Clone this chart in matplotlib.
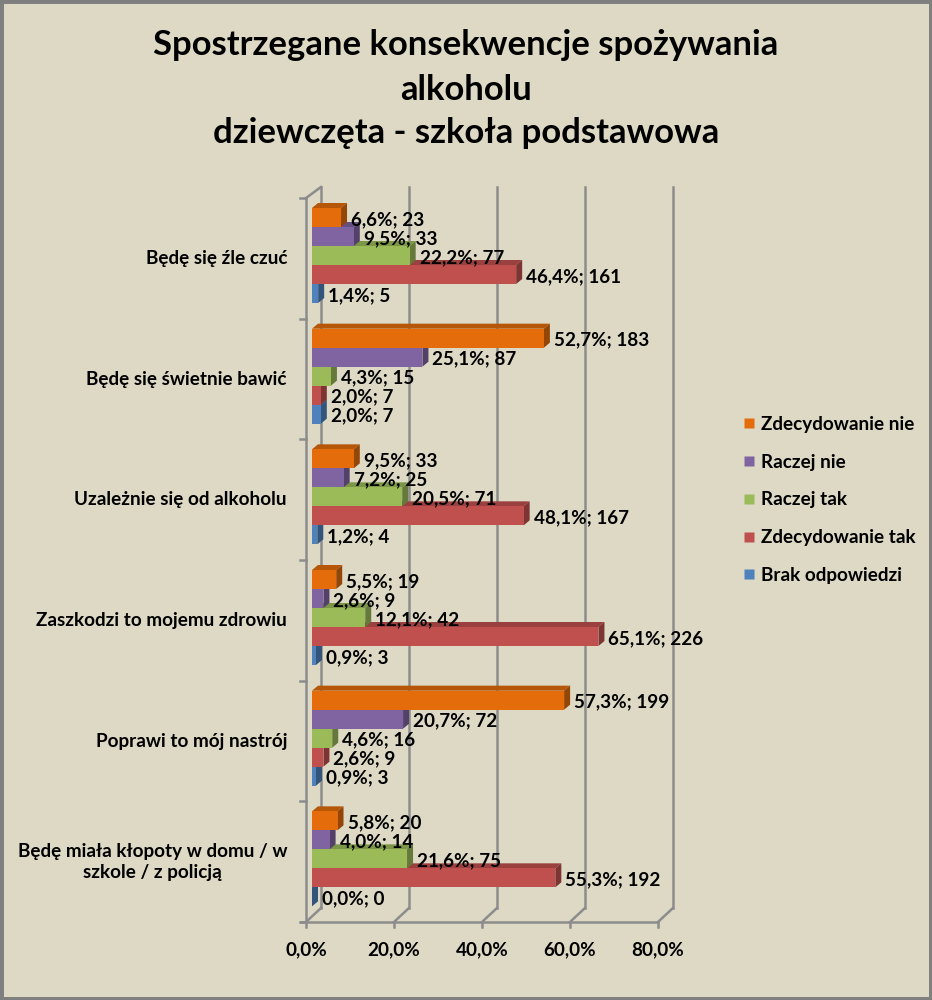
import matplotlib
matplotlib.use("Agg")
import matplotlib.pyplot as plt
from matplotlib.patches import Polygon, Rectangle
from matplotlib.lines import Line2D
import numpy as np

plt.rcParams['font.family'] = ['Lato', 'DejaVu Sans']

# dane
categories = [
    "Będę się źle czuć",
    "Będę się świetnie bawić",
    "Uzależnie się od alkoholu",
    "Zaszkodzi to mojemu zdrowiu",
    "Poprawi to mój nastrój",
    "Będę miała kłopoty w domu / w\nszkole / z policją",
]
series = ["Zdecydowanie nie", "Raczej nie", "Raczej tak", "Zdecydowanie tak", "Brak odpowiedzi"]
colors = ["#E46C0A", "#8064A2", "#9BBB59", "#C0504D", "#4F81BD"]

pct_zdec_nie = [6.6, 52.7, 9.5, 5.5, 57.3, 5.8]
pct_raczej_nie = [9.5, 25.1, 7.2, 2.6, 20.7, 4.0]
pct_raczej_tak = [22.2, 4.3, 20.5, 12.1, 4.6, 21.6]
pct_zdec_tak = [46.4, 2.0, 48.1, 65.1, 2.6, 55.3]
pct_brak = [1.4, 2.0, 1.2, 0.9, 0.9, 0.0]

n_zdec_nie = [23, 183, 33, 19, 199, 20]
n_raczej_nie = [33, 87, 25, 9, 72, 14]
n_raczej_tak = [77, 15, 71, 42, 16, 75]
n_zdec_tak = [161, 7, 167, 226, 9, 192]
n_brak = [5, 7, 4, 3, 3, 0]

pcts = [pct_zdec_nie, pct_raczej_nie, pct_raczej_tak, pct_zdec_tak, pct_brak]
counts = [n_zdec_nie, n_raczej_nie, n_raczej_tak, n_zdec_tak, n_brak]

xticks = [0, 20, 40, 60, 80]
xticklabels = ["0,0%", "20,0%", "40,0%", "60,0%", "80,0%"]

BG = "#DDD9C4"
GRID = "#8C8C8C"
FS = 13.6

fig = plt.figure(figsize=(9.32, 10), dpi=100)
fig.patch.set_facecolor(BG)

# obszar wykresu (piksele: x 306..658, y 198..922)
ax = fig.add_axes([306 / 932, 78 / 1000, 352 / 932, 724 / 1000])
ax.set_xlim(0, 80)
ax.set_ylim(0, 6)
ax.axis("off")

kx = 80 / 352.0   # jednostki danych na piksel
ky = 6 / 724.0

def shade(c, f):
    c = np.array(matplotlib.colors.to_rgb(c))
    return tuple(c * f)

# tylna sciana i podloga
bdx, bdy = 15 * kx, 14 * ky
for xt in xticks:
    ax.plot([xt + bdx, xt + bdx], [bdy, 6 + 11 * ky], color=GRID, lw=1.8, clip_on=False, zorder=1)
    ax.plot([xt, xt + bdx], [0, bdy], color=GRID, lw=1.8, clip_on=False, zorder=1)
    ax.plot([xt, xt], [0, -5 * ky], color=GRID, lw=1.8, clip_on=False, zorder=1)
ax.plot([0, 0], [0, 6], color=GRID, lw=1.8, clip_on=False, zorder=1)
ax.plot([0, bdx], [6, 6 + 11 * ky], color=GRID, lw=1.8, clip_on=False, zorder=1)
ax.plot([-5 * kx, 80], [0, 0], color=GRID, lw=1.8, clip_on=False, zorder=1)
for k in range(7):
    ax.plot([-6 * kx, 0], [k, k], color=GRID, lw=1.8, clip_on=False, zorder=1)

# slupki 3D
bar_h = 19 * ky
x0 = 6 * kx
ddx, ddy = 6 * kx, 5 * ky
for gi in range(len(categories)):
    gtop = 6 - gi
    for si in reversed(range(len(series))):
        v = pcts[si][gi]
        yc = gtop - (10 + 9.5 + 19 * si) * ky
        yb, yt = yc - bar_h / 2, yc + bar_h / 2
        x1 = x0 + v
        z = 3 + (len(series) - si) * 0.1 + gi * 0.01
        top = Polygon([(x0, yt), (x0 + ddx, yt + ddy), (x1 + ddx, yt + ddy), (x1, yt)],
                      closed=True, facecolor=shade(colors[si], 0.8), edgecolor="none",
                      zorder=z, clip_on=False)
        side = Polygon([(x1, yt), (x1 + ddx, yt + ddy), (x1 + ddx, yb + ddy), (x1, yb)],
                       closed=True, facecolor=shade(colors[si], 0.65), edgecolor="none",
                       zorder=z, clip_on=False)
        ax.add_patch(top)
        ax.add_patch(side)
        ax.barh(yc, v, left=x0, height=bar_h, color=colors[si], zorder=z + 0.001,
                clip_on=False)
        lab = ("%.1f" % v).replace(".", ",") + "%; " + str(counts[si][gi])
        ax.text(x1 + 10 * kx, yc - 2 * ky, lab, ha="left", va="center", fontsize=FS,
                fontweight="bold", color="black", zorder=10)

# etykiety kategorii
for gi, cat in enumerate(categories):
    ax.text(-19 * kx, 6 - gi - 0.5, cat, ha="right", va="center", multialignment="center",
            fontsize=FS, fontweight="bold", linespacing=1.3)

# etykiety osi X
for xt, tl in zip(xticks, xticklabels):
    ax.text(xt, -28 * ky, tl, ha="center", va="center", fontsize=FS, fontweight="bold")

# legenda
handles = [Line2D([], [], marker="s", linestyle="none", markersize=7.5,
                  markerfacecolor=c, markeredgecolor="none") for c in colors]
fig.legend(handles, series, loc="center left", bbox_to_anchor=(726 / 932, 1 - 500 / 1000),
           frameon=False, prop={"weight": "bold", "size": FS}, handlelength=0.6,
           handletextpad=0.35, labelspacing=1.1)

# tytul
fig.text(0.5, 1 - 45 / 1000, "Spostrzegane konsekwencje spożywania", ha="center", va="center",
         fontsize=24.9, fontweight="bold")
fig.text(0.5, 1 - 90 / 1000, "alkoholu", ha="center", va="center", fontsize=24.9, fontweight="bold")
fig.text(0.5, 1 - 133 / 1000, "dziewczęta - szkoła podstawowa", ha="center", va="center",
         fontsize=24.9, fontweight="bold")

# ramka
fig.patches.append(Rectangle((0, 0), 1, 1, transform=fig.transFigure, fill=False,
                             edgecolor="#7F7F7F", lw=5))

fig.savefig("out.png", dpi=100, facecolor=BG)
